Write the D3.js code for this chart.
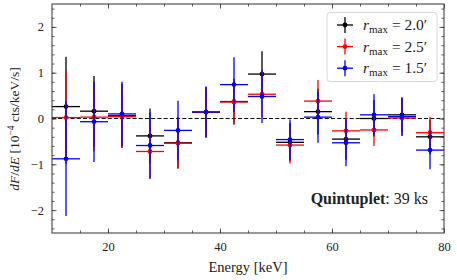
<!DOCTYPE html>
<html>
<head>
<meta charset="utf-8">
<script src="https://cdn.jsdelivr.net/npm/d3@7"></script>
<style>
  body { margin: 0; background: #fff; }
  text { font-family: "Liberation Serif", "DejaVu Serif", serif; fill: #222; }
</style>
</head>
<body>
<svg id="chart"></svg>
<script>
// bin centres (keV) and half-width
const energy = [12.5, 17.5, 22.5, 27.5, 32.5, 37.5, 42.5, 47.5, 52.5, 57.5, 62.5, 67.5, 72.5, 77.5];
const halfWidth = 2.5;

const black = [0.26, 0.16, 0.06, -0.38, -0.53, 0.14, 0.37, 0.97, -0.52, 0.15, -0.45, 0.0, 0.08, -0.40];
const blackErr = [1.09, 0.77, 0.7, 0.6, 0.56, 0.55, 0.5, 0.5, 0.42, 0.5, 0.45, 0.4, 0.38, 0.38];
const red = [0.02, 0.03, 0.04, -0.72, -0.54, 0.14, 0.36, 0.53, -0.58, 0.38, -0.27, -0.25, 0.01, -0.31];
const redErr = [1.02, 0.75, 0.68, 0.6, 0.55, 0.55, 0.49, 0.5, 0.4, 0.46, 0.42, 0.35, 0.38, 0.35];
const blue = [-0.88, -0.07, 0.10, -0.59, -0.26, 0.14, 0.74, 0.48, -0.46, 0.03, -0.53, 0.08, 0.04, -0.69];
const blueErr = [1.25, 0.88, 0.70, 0.72, 0.65, 0.56, 0.6, 0.58, 0.44, 0.56, 0.51, 0.45, 0.42, 0.42];

const seriesNames = ['2.0', '2.5', '1.5'];
const seriesColors = ['#000000', '#ff0000', '#0000ff'];

const xTicks = [20, 40, 60, 80];
const yTicks = [-2, -1, 0, 1, 2];

const svgWidth = 457, svgHeight = 280;
const margin = { top: 4, right: 13, bottom: 47, left: 52 };
const width = svgWidth - margin.left - margin.right;
const height = svgHeight - margin.top - margin.bottom;

const svg = d3.select('#chart')
  .attr('width', svgWidth)
  .attr('height', svgHeight);

const g = svg.append('g')
  .attr('transform', `translate(${margin.left}, ${margin.top})`);

const xScale = d3.scaleLinear().domain([10, 80]).range([0, width]);
const yScale = d3.scaleLinear().domain([-2.5, 2.5]).range([height, 0]);

// zero line
g.append('line')
  .attr('x1', 0).attr('x2', width)
  .attr('y1', yScale(0)).attr('y2', yScale(0))
  .attr('stroke', '#000')
  .attr('stroke-width', 1.2)
  .attr('stroke-dasharray', '4,2.2');

// data series, drawn black, red, blue
const series = [
  { vals: black, errs: blackErr },
  { vals: red, errs: redErr },
  { vals: blue, errs: blueErr }
];

series.forEach((s, i) => {
  const pts = energy.map((e, j) => ({ e: e, v: s.vals[j], err: s.errs[j] }));
  const sg = g.append('g');
  sg.selectAll('.xerr')
    .data(pts).enter().append('line')
      .attr('x1', d => xScale(d.e - halfWidth))
      .attr('x2', d => xScale(d.e + halfWidth))
      .attr('y1', d => yScale(d.v))
      .attr('y2', d => yScale(d.v))
      .attr('stroke', seriesColors[i])
      .attr('stroke-width', 1.3);
  sg.selectAll('.yerr')
    .data(pts).enter().append('line')
      .attr('x1', d => xScale(d.e))
      .attr('x2', d => xScale(d.e))
      .attr('y1', d => yScale(d.v - d.err))
      .attr('y2', d => yScale(d.v + d.err))
      .attr('stroke', seriesColors[i])
      .attr('stroke-width', 1.3);
  sg.selectAll('circle')
    .data(pts).enter().append('circle')
      .attr('cx', d => xScale(d.e))
      .attr('cy', d => yScale(d.v))
      .attr('r', 2.4)
      .attr('fill', seriesColors[i]);
});

// axes with inward ticks on all sides
function styleAxis(sel) {
  sel.select('.domain').remove();
  sel.selectAll('line').attr('stroke', '#333').attr('stroke-width', 0.8);
}

const xMinor = d3.range(15, 80, 5);
const yMinor = d3.range(-2.4, 2.41, 0.2);

g.append('g').attr('transform', `translate(0, ${height})`)
  .call(d3.axisBottom(xScale).tickValues(xMinor).tickSize(-2.5).tickFormat(''))
  .call(styleAxis);
g.append('g')
  .call(d3.axisTop(xScale).tickValues(xMinor).tickSize(-2.5).tickFormat(''))
  .call(styleAxis);
g.append('g').attr('transform', `translate(0, ${height})`)
  .call(d3.axisBottom(xScale).tickValues(xTicks).tickSize(-4.5).tickPadding(9).tickFormat(d3.format('d')))
  .call(styleAxis)
  .selectAll('text').attr('font-size', 12.5).style('font-family', '"Liberation Serif", serif').attr('fill', '#222');
g.append('g')
  .call(d3.axisTop(xScale).tickValues(xTicks).tickSize(-4.5).tickFormat(''))
  .call(styleAxis);

g.append('g')
  .call(d3.axisLeft(yScale).tickValues(yMinor).tickSize(-2.5).tickFormat(''))
  .call(styleAxis);
g.append('g').attr('transform', `translate(${width}, 0)`)
  .call(d3.axisRight(yScale).tickValues(yMinor).tickSize(-2.5).tickFormat(''))
  .call(styleAxis);
g.append('g')
  .call(d3.axisLeft(yScale).tickValues(yTicks).tickSize(-4.5).tickPadding(8)
    .tickFormat(d => d < 0 ? '\u2212' + Math.abs(d) : d))
  .call(styleAxis)
  .selectAll('text').attr('font-size', 12.5).style('font-family', '"Liberation Serif", serif').attr('fill', '#222');
g.append('g').attr('transform', `translate(${width}, 0)`)
  .call(d3.axisRight(yScale).tickValues(yTicks).tickSize(-4.5).tickFormat(''))
  .call(styleAxis);

// frame
g.append('rect')
  .attr('width', width).attr('height', height)
  .attr('fill', 'none')
  .attr('stroke', '#333')
  .attr('stroke-width', 1);

// axis labels
svg.append('text')
  .attr('x', margin.left + width / 2)
  .attr('y', 272)
  .attr('text-anchor', 'middle')
  .attr('font-size', 14.5)
  .text('Energy [keV]');

const yl = svg.append('text')
  .attr('transform', 'translate(19, 129) rotate(-90)')
  .attr('text-anchor', 'middle')
  .attr('font-size', 13.5);
yl.append('tspan').attr('font-style', 'italic').text('dF');
yl.append('tspan').text('/');
yl.append('tspan').attr('font-style', 'italic').text('dE');
yl.append('tspan').text(' [10');
yl.append('tspan').attr('font-size', 9.5).attr('dy', -5).text('\u22124');
yl.append('tspan').attr('dy', 5).text(' cts/keV/s]');

// legend
const legend = svg.append('g');
legend.append('rect')
  .attr('x', 327).attr('y', 12.5)
  .attr('width', 110).attr('height', 69)
  .attr('rx', 3)
  .attr('fill', 'rgba(255,255,255,0.85)')
  .attr('stroke', '#d8d8d8')
  .attr('stroke-width', 1);

seriesNames.forEach((name, i) => {
  const ly = 25 + i * 21.6;
  const lg = legend.append('g');
  lg.append('line').attr('x1', 337).attr('x2', 353).attr('y1', ly).attr('y2', ly)
    .attr('stroke', seriesColors[i]).attr('stroke-width', 1.3);
  lg.append('line').attr('x1', 345).attr('x2', 345).attr('y1', ly - 8).attr('y2', ly + 8)
    .attr('stroke', seriesColors[i]).attr('stroke-width', 1.3);
  lg.append('circle').attr('cx', 345).attr('cy', ly).attr('r', 2.4).attr('fill', seriesColors[i]);
  const t = lg.append('text').attr('x', 363).attr('y', ly + 5).attr('font-size', 15.5);
  t.append('tspan').attr('font-style', 'italic').text('r');
  t.append('tspan').attr('font-size', 11).attr('dy', 3).text('max');
  t.append('tspan').attr('dy', -3).text(' = ' + name + '\u2032');
});

// annotation
const ann = svg.append('text')
  .attr('x', 428).attr('y', 203.5)
  .attr('text-anchor', 'end')
  .attr('font-size', 16);
ann.append('tspan').attr('font-weight', 'bold').text('Quintuplet');
ann.append('tspan').text(': 39 ks');
</script>
</body>
</html>
